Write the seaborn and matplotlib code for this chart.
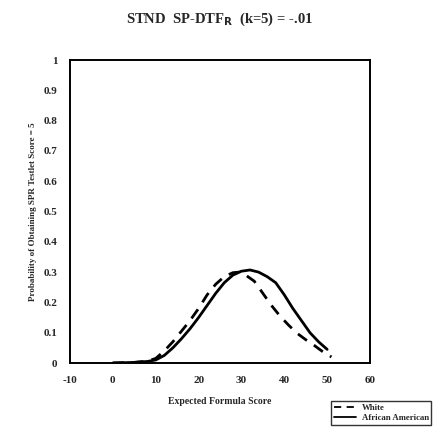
import matplotlib
matplotlib.use("Agg")
import matplotlib.pyplot as plt
import seaborn as sns
import pandas as pd
from matplotlib.lines import Line2D

# Data
white_x = [0, 5, 8, 10, 12, 14, 16, 18, 20, 22, 24, 26, 28, 29.5, 31, 33, 35, 37, 39, 41, 43, 45, 47, 49, 51]
white_y = [0, 0.002, 0.006, 0.015, 0.04, 0.07, 0.105, 0.14, 0.18, 0.225, 0.26, 0.285, 0.298, 0.30, 0.29,
           0.27, 0.23, 0.19, 0.155, 0.125, 0.098, 0.077, 0.058, 0.037, 0.02]
aa_x = [0, 5, 8, 10, 12, 14, 16, 18, 20, 22, 24, 26, 28, 30, 32, 34, 36, 38, 40, 42, 44, 46, 48, 50]
aa_y = [0, 0.002, 0.005, 0.01, 0.025, 0.05, 0.08, 0.113, 0.15, 0.19, 0.23, 0.265, 0.29, 0.303, 0.307,
        0.3, 0.285, 0.265, 0.225, 0.18, 0.14, 0.1, 0.07, 0.045]
groups = ["White", "African American"]
x_ticks = [-10, 0, 10, 20, 30, 40, 50, 60]
x_tick_labels = ["-10", "0", "10", "20", "30", "40", "50", "60"]
y_ticks = [0, 0.1, 0.2, 0.3, 0.4, 0.5, 0.6, 0.7, 0.8, 0.9, 1.0]
y_tick_labels = ["0", "0.1", "0.2", "0.3", "0.4", "0.5", "0.6", "0.7", "0.8", "0.9", "1"]

white_df = pd.DataFrame({"x": white_x, "y": white_y})
aa_df = pd.DataFrame({"x": aa_x, "y": aa_y})

sns.set_style("white")
plt.rcParams["font.family"] = ["Liberation Serif", "DejaVu Serif"]
plt.rcParams["font.weight"] = "bold"

fig = plt.figure(figsize=(4.39, 4.36), dpi=100)
ax = fig.add_axes([70 / 439, (436 - 363) / 436, 300 / 439, 303 / 436])

sns.lineplot(data=white_df, x="x", y="y", color="black", linewidth=2,
             linestyle=(0, (4, 3)), ax=ax, sort=False)
sns.lineplot(data=aa_df, x="x", y="y", color="black", linewidth=2,
             linestyle="-", ax=ax, sort=False)

ax.set_xlim(-10, 60)
ax.set_ylim(0, 1.0)
ax.set_xticks(x_ticks)
ax.set_xticklabels(x_tick_labels, fontsize=8, fontweight="bold")
ax.set_yticks(y_ticks)
ax.set_yticklabels(y_tick_labels, fontsize=8, fontweight="bold")
ax.tick_params(axis="both", direction="out", length=4, width=1.2, color="black", pad=5)
for s in ax.spines.values():
    s.set_color("black")
    s.set_linewidth(1.4)
ax.set_xlabel("Expected Formula Score", fontsize=7, fontweight="bold", labelpad=9)
ax.set_ylabel("Probability of Obtaining SPR Testlet Score = 5", fontsize=6.5, fontweight="bold", labelpad=5)

fig.text(0.5, 0.955, r"STND  SP-DTF$_\mathbf{R}$  (k=5) = -.01", ha="center", va="center",
         fontsize=10.5, fontweight="bold")

handles = [Line2D([], [], color="black", linestyle=(0, (4, 3)), linewidth=1.3),
           Line2D([], [], color="black", linestyle="-", linewidth=1.3)]
leg = fig.legend(handles, groups, loc="upper left", bbox_to_anchor=(331 / 439, (436 - 401) / 436),
                 fontsize=6.3, frameon=True, fancybox=False, handlelength=2.6,
                 borderpad=0.3, labelspacing=0.25, handletextpad=0.6, borderaxespad=0)
leg.get_frame().set_edgecolor("black")
leg.get_frame().set_linewidth(1.0)

fig.savefig("out.png", dpi=100)
